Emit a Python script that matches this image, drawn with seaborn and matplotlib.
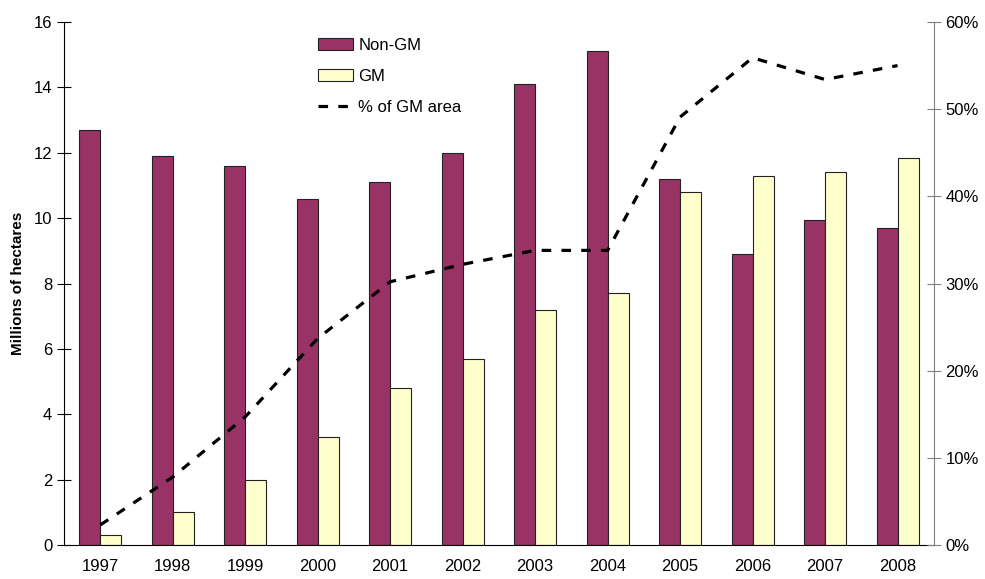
import seaborn as sns
import pandas as pd
import matplotlib.pyplot as plt
import numpy as np
from matplotlib.ticker import FixedLocator, FuncFormatter

sns.set_style('white', {'text.color': 'black', 'axes.labelcolor': 'black',
                        'xtick.color': 'black', 'ytick.color': 'black'})
plt.rcParams['font.family'] = ['Liberation Sans', 'DejaVu Sans']

years = ['1997', '1998', '1999', '2000', '2001', '2002',
         '2003', '2004', '2005', '2006', '2007', '2008']
non_gm = [12.7, 11.9, 11.6, 10.6, 11.1, 12.0, 14.1, 15.1, 11.2, 8.9, 9.95, 9.7]
gm = [0.3, 1.0, 2.0, 3.3, 4.8, 5.7, 7.2, 7.7, 10.8, 11.3, 11.4, 11.85]
gm_share = [2.3, 7.8, 14.7, 23.7, 30.2, 32.2, 33.8, 33.8, 49.1, 55.9, 53.4, 55.0]

df = pd.DataFrame({'year': years * 2,
                   'area': non_gm + gm,
                   'type': ['Non-GM'] * len(years) + ['GM'] * len(years)})

fig = plt.figure(figsize=(9.85, 5.79), dpi=100)
ax = fig.add_axes([0.065, 0.0587, 0.883, 0.9033])

sns.barplot(data=df, x='year', y='area', hue='type',
            palette={'Non-GM': '#993366', 'GM': '#FFFFCC'}, saturation=1,
            width=0.58, edgecolor='#222222', linewidth=0.8, ax=ax)

ax.set_xlim(-0.5, len(years) - 0.5)
ax.set_ylim(0, 16)
ax.set_yticks(np.arange(0, 17, 2))
ax.set_xlabel('')
ax.set_ylabel('Millions of hectares', fontsize=11, fontweight='bold', labelpad=6)
ax.tick_params(axis='x', which='major', length=0, labelsize=12, pad=10)
ax.xaxis.set_minor_locator(FixedLocator(np.arange(-0.5, len(years), 1)))
ax.tick_params(axis='x', which='minor', length=10, direction='inout', width=0.8, color='black')
ax.tick_params(axis='y', length=10, direction='inout', width=0.8, labelsize=12, color='black', left=True)
for s in ['top', 'right']:
    ax.spines[s].set_visible(False)
ax.spines['left'].set_color('black')
ax.spines['bottom'].set_color('black')
ax.legend_.remove()

ax2 = ax.twinx()
sns.lineplot(x=np.arange(len(years)), y=gm_share, ax=ax2, color='black',
             linewidth=2.3, linestyle=(0, (3, 3.2)), label='% of GM area')
ax2.set_ylim(0, 60)
ax2.set_yticks(np.arange(0, 61, 10))
ax2.yaxis.set_major_formatter(FuncFormatter(lambda v, p: f'{v:.0f}%'))
ax2.tick_params(axis='y', length=10, direction='inout', width=0.8, labelsize=12,
                color='#808080', labelcolor='black', right=True)
for s in ['top', 'left', 'bottom']:
    ax2.spines[s].set_visible(False)
ax2.spines['right'].set_color('#808080')
ax2.set_xlim(-0.5, len(years) - 0.5)

h1, l1 = ax.get_legend_handles_labels()
h2, l2 = ax2.get_legend_handles_labels()
ax2.legend(h1 + h2, l1 + l2, loc='upper left', bbox_to_anchor=(0.275, 0.998),
           frameon=False, fontsize=12, labelspacing=0.95, handlelength=2.1,
           handleheight=0.7, handletextpad=0.3)

fig.savefig('out.png', dpi=100)
